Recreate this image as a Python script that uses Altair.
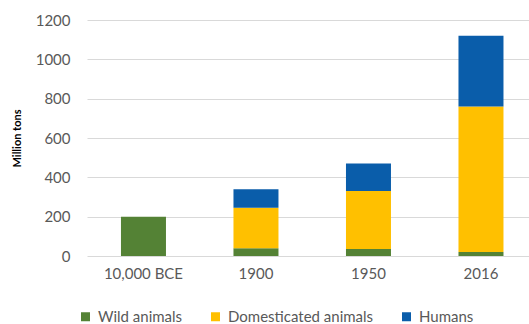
import altair as alt
import pandas as pd

periods = ["10,000 BCE", "1900", "1950", "2016"]
series = ["Wild animals", "Domesticated animals", "Humans"]
wild = [200, 40, 35, 20]
domesticated = [0, 205, 295, 740]
humans = [0, 95, 140, 360]
colors = ["#548235", "#FFC000", "#0A5DAA"]

rows = []
for i, p in enumerate(periods):
    for j, (s, vals) in enumerate(zip(series, [wild, domesticated, humans])):
        rows.append({"period": p, "series": s, "value": vals[i], "order": j})
df = pd.DataFrame(rows)

FONT = "Lato"

chart = alt.Chart(df).mark_bar().encode(
    x=alt.X("period:N", sort=periods, title=None,
            scale=alt.Scale(paddingInner=0.6, paddingOuter=0.2644, align=0.571),
            axis=alt.Axis(labelAngle=0, labelFont=FONT, labelFontSize=15, labelColor="#595959",
                          ticks=False, domain=False, labelPadding=10, grid=False)),
    y=alt.Y("value:Q", stack="zero", title="Million tons",
            scale=alt.Scale(domain=[0, 1200], nice=False),
            axis=alt.Axis(values=[0, 200, 400, 600, 800, 1000, 1200], format="d", labelFont=FONT,
                          labelFontSize=15, labelColor="#595959", ticks=False, domain=False,
                          labelPadding=17, gridColor="#D9D9D9", gridWidth=1,
                          titleFont=FONT, titleFontSize=11, titleFontWeight="bold", titleColor="#000000",
                          titleAngle=-90, titleX=-70, titleY=118, titleAlign="center",
                          titleBaseline="middle")),
    color=alt.Color("series:N", sort=series,
                    scale=alt.Scale(domain=series, range=colors),
                    legend=alt.Legend(title=None, orient="none", direction="horizontal",
                                      legendX=-9, legendY=289, symbolType="square", symbolSize=81,
                                      symbolStrokeWidth=0, labelFont=FONT, labelFontSize=15,
                                      labelColor="#595959", labelOffset=5, columnPadding=25)),
    order=alt.Order("order:Q"),
).properties(
    width=442, height=236,
    autosize=alt.AutoSizeParams(type="none"),
    padding={"left": 87, "top": 20, "right": 0, "bottom": 68},
).configure_view(stroke=None)

chart.save("out.html", embed_options={"renderer": "svg", "actions": False})
